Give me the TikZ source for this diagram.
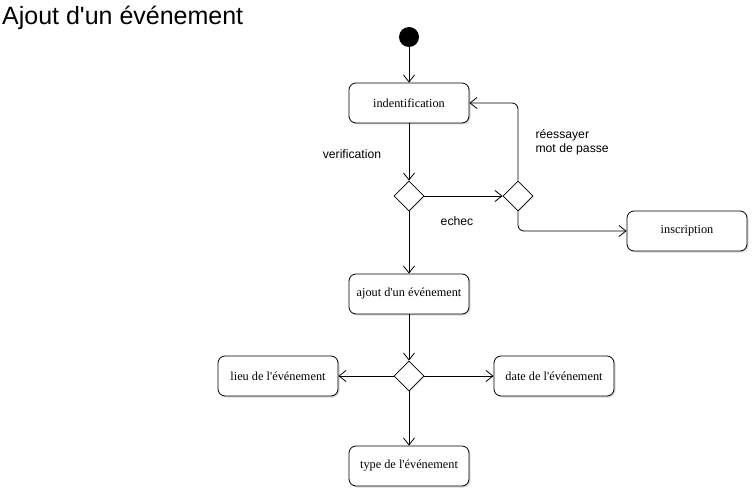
\documentclass[tikz,border=0pt]{standalone}
\usepackage{fontspec}
\setmainfont{Liberation Serif}
\newfontfamily\labelfont{Liberation Sans}
\usetikzlibrary{arrows.meta,shapes.geometric,shadows}

\begin{document}
\begin{tikzpicture}[x=1pt,y=-1pt,
    action/.style={draw, line width=0.8pt, rounded corners=7pt, fill=white, minimum width=120pt, minimum height=40pt,
      font=\fontsize{12.3}{14}\selectfont, drop shadow={shadow xshift=1.5pt, shadow yshift=-1.5pt, fill=black!30}},
    choice/.style={draw, line width=0.8pt, diamond, fill=white, minimum width=30pt, minimum height=30pt, inner sep=0pt,
      drop shadow={shadow xshift=1pt, shadow yshift=-1pt, fill=black!25}},
    arr/.style={-{Straight Barb[length=7pt,width=11pt]}, line width=0.8pt},
    lbl/.style={font=\labelfont\fontsize{12.2}{14}\selectfont}]
  \useasboundingbox (0,0) rectangle (753,492);
  \node[anchor=west, font=\labelfont\fontsize{25}{28}\selectfont, inner sep=0pt] (titre) at (2,18) {Ajout d\textquotesingle un événement};

  % etapes
  \node[circle, fill=black, minimum size=20pt, inner sep=0pt] (debut) at (409,37) {};
  \node[action] (ident) at (409,103) {indentification};
  \node[choice] (verif) at (409,196) {};
  \node[choice] (essai) at (518,196) {};
  \node[action] (inscr) at (687,231) {inscription};
  \node[action] (ajout) at (409,294) {ajout d\textquotesingle un événement};
  \node[choice] (infos) at (409,376) {};
  \node[action] (lieu) at (278,376) {lieu de l\textquotesingle événement};
  \node[action] (date) at (554,376) {date de l\textquotesingle événement};
  \node[action] (type) at (409,466) {type de l\textquotesingle événement};

  % transitions
  \draw[arr] (debut) -- (ident);
  \draw[arr] (ident) -- (verif);
  \draw[arr] (verif) -- (essai);
  \draw[arr, rounded corners=6pt] (essai.north) |- (ident.east);
  \draw[arr, rounded corners=6pt] (essai.south) |- (inscr.west);
  \draw[arr] (verif) -- (ajout);
  \draw[arr] (ajout) -- (infos);
  \draw[arr] (infos) -- (lieu);
  \draw[arr] (infos) -- (date);
  \draw[arr] (infos) -- (type);

  % etiquettes
  \node[lbl] (lverif) at (352,154) {verification};
  \node[lbl] (lechec) at (457,221) {echec};
  \node[lbl, anchor=west, align=left] (lessai) at (532,142) {réessayer\\mot de passe};
\end{tikzpicture}
\end{document}
